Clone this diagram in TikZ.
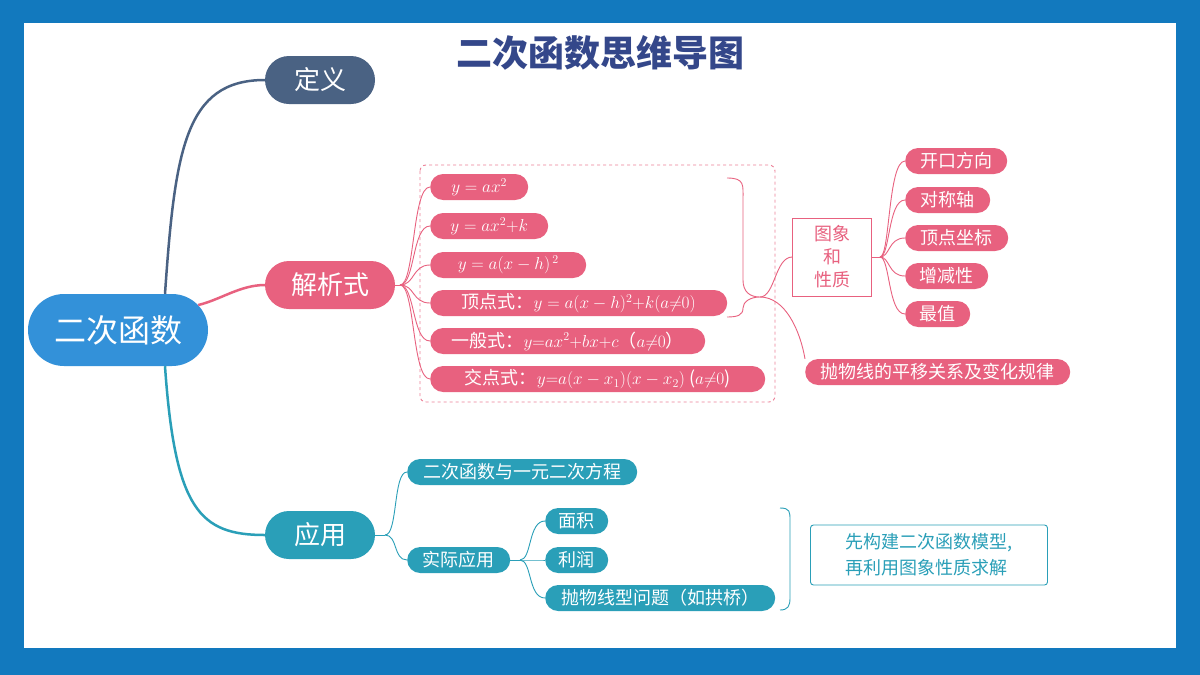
\documentclass[tikz,border=0pt]{standalone}
\usepackage{fontspec}
\setmainfont{Noto Sans CJK SC}
\usepackage{amsmath}
\definecolor{frame}{HTML}{1279BE}
\definecolor{slate}{HTML}{4A6283}
\definecolor{rose}{HTML}{E8617F}
\definecolor{teal}{HTML}{2A9FB8}
\definecolor{sky}{HTML}{3391D9}
\definecolor{ink}{HTML}{34478A}
\begin{document}
\begin{tikzpicture}[x=1pt,y=-1pt,
  pill/.style={rounded corners=13pt,minimum height=26pt,text=white,inner sep=0pt,font=\fontsize{18}{18}\selectfont,anchor=west},
  rpill/.style={pill,fill=rose},
  tpill/.style={pill,fill=teal},
  big/.style={rounded corners=24pt,minimum height=48pt,text=white,font=\fontsize{26}{26}\selectfont},
  rl/.style={rose,line width=0.9pt},
  tl/.style={teal,line width=0.9pt}]
\fill[frame] (0,0) rectangle (1200,675);
\fill[white] (24,23) rectangle (1176,648);
\node[text=ink,font=\fontsize{36}{36}\selectfont\bfseries] (title) at (600,53) {二次函数思维导图};
% main nodes
\node[big,fill=sky,minimum width=180pt,minimum height=72pt,rounded corners=36pt,font=\fontsize{32}{32}\selectfont] (root) at (118,330) {二次函数};
\node[big,fill=slate,minimum width=110pt] (def) at (320,80) {定义};
\node[big,fill=rose,minimum width=130pt] (expr) at (330,285) {解析式};
\node[big,fill=teal,minimum width=110pt] (app) at (320,535) {应用};
\draw[slate,line width=2.5pt] (root.north) ++(47,0) .. controls (175,150) and (185,80) .. (def.west);
\draw[rose,line width=2.5pt] (root.east) ++(-10,-25) .. controls (220,300) and (240,285) .. (expr.west);
\draw[teal,line width=2.5pt] (root.south) ++(47,0) .. controls (175,510) and (200,535) .. (app.west);
% formulas
\draw[rose!80,dashed,line width=0.9pt,rounded corners=6pt] (420,165) rectangle (775,402);
\node[rpill,minimum width=98pt] (f1) at (430,187) {$y=ax^2$};
\node[rpill,minimum width=118pt] (f2) at (430,226) {$y=ax^2{+}k$};
\node[rpill,minimum width=156pt] (f3) at (430,265) {$y=a(x-h)^{\,2}$};
\node[rpill,minimum width=297pt] (f4) at (430,303) {顶点式：$y=a(x-h)^2{+}k(a{\neq}0)$};
\node[rpill,minimum width=275pt] (f5) at (430,341) {一般式：$y{=}ax^2{+}bx{+}c$（$a{\neq}0$）};
\node[rpill,minimum width=335pt] (f6) at (430,379) {交点式：$y{=}a(x-x_1)(x-x_2)$ ($a{\neq}0$)};
\coordinate (fk) at (400,285);
\draw[rl] (expr.east) -- (fk);
\foreach \f in {f1,f2,f3,f4,f5,f6}
  \draw[rl] (fk) .. controls (415,285) and ([xshift=-18pt]\f.west) .. (\f.west);
% brace over formulas
\coordinate (bt) at (760,297);
\draw[rl] (727,178) .. controls (745,178) and (743,185) .. (743,200) -- (743,280)
  .. controls (743,292) and (750,297) .. (bt) .. controls (750,297) and (743,302) .. (743,308)
  .. controls (743,315) and (738,317) .. (727,317);
\node[draw=rose,fill=white,text=rose,inner sep=0pt,minimum width=79pt,minimum height=78pt,align=center,font=\fontsize{18}{23}\selectfont] (img) at (832,257) {图象\\和\\性质};
\node[rpill,minimum width=265pt] (move) at (805,372) {抛物线的平移关系及变化规律};
\draw[rl] (bt) .. controls (775,297) and (775,257) .. (img.west);
\draw[rl] (bt) .. controls (785,297) and (800,330) .. (move.north west);
% properties
\node[rpill,minimum width=102pt] (p1) at (905,161) {开口方向};
\node[rpill,minimum width=85pt] (p2) at (905,200) {对称轴};
\node[rpill,minimum width=103pt] (p3) at (905,238) {顶点坐标};
\node[rpill,minimum width=83pt] (p4) at (905,276) {增减性};
\node[rpill,minimum width=65pt] (p5) at (905,314) {最值};
\coordinate (pk) at (880,257);
\draw[rl] (img.east) -- (pk);
\foreach \p in {p1,p2,p3,p4,p5}
  \draw[rl] (pk) .. controls (890,257) and ([xshift=-17pt]\p.west) .. (\p.west);
% applications
\node[tpill,minimum width=230pt] (eq) at (407,472) {二次函数与一元二次方程};
\node[tpill,minimum width=103pt] (real) at (407,560) {实际应用};
\coordinate (ak) at (385,535);
\draw[tl] (app.east) -- (ak);
\draw[tl] (ak) .. controls (398,535) and (393,472) .. (eq.west);
\draw[tl] (ak) .. controls (398,535) and (393,560) .. (real.west);
\node[tpill,minimum width=63pt] (area) at (545,521) {面积};
\node[tpill,minimum width=63pt] (profit) at (545,560) {利润};
\node[tpill,minimum width=230pt] (arch) at (545,598) {抛物线型问题（如拱桥）};
\coordinate (rk) at (520,560);
\draw[tl] (real.east) -- (rk);
\foreach \a in {area,profit,arch}
  \draw[tl] (rk) .. controls (532,560) and ([xshift=-17pt]\a.west) .. (\a.west);
\draw[tl] (780,508) .. controls (790,508) and (790,512) .. (790,520) -- (790,598)
  .. controls (790,606) and (788,610) .. (780,610);
\node[draw=teal,line width=0.9pt,text=teal,inner sep=0pt,rounded corners=3pt,minimum width=237pt,minimum height=60pt,align=left,font=\fontsize{18}{26}\selectfont] (tip) at (929,555) {先构建二次函数模型,\\再利用图象性质求解};
\end{tikzpicture}
\end{document}
